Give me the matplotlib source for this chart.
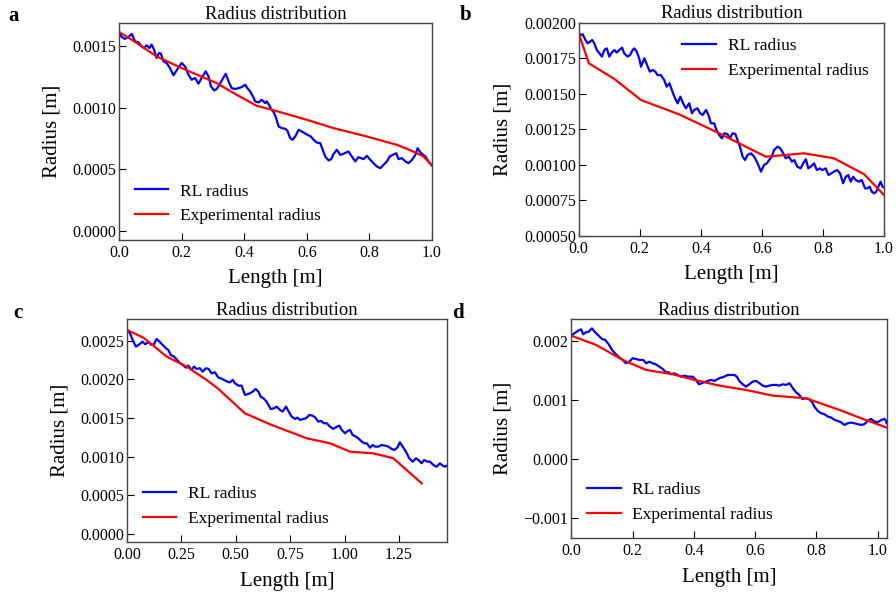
import numpy as np
import matplotlib
matplotlib.use("Agg")
import matplotlib.pyplot as plt
from matplotlib.ticker import MultipleLocator

plt.rcParams["font.family"] = ["Liberation Serif", "DejaVu Serif"]

# ---- panel a (radius stored in mm, converted to m below)
len_a = [0, 0.0085, 0.019, 0.030, 0.041, 0.051, 0.062, 0.072, 0.080, 0.088, 0.097, 0.104, 0.112, 0.120,
         0.128, 0.134, 0.142, 0.152, 0.163, 0.174, 0.184, 0.200, 0.211, 0.222, 0.232, 0.243, 0.254, 0.264,
         0.277, 0.286, 0.294, 0.304, 0.312, 0.321, 0.332, 0.341, 0.350, 0.360, 0.371, 0.382, 0.392, 0.403,
         0.410, 0.419, 0.428, 0.435, 0.446, 0.456, 0.467, 0.472, 0.481, 0.488, 0.496, 0.502, 0.510, 0.520,
         0.531, 0.538, 0.547, 0.554, 0.563, 0.574, 0.584, 0.593, 0.602, 0.613, 0.622, 0.632, 0.643, 0.651,
         0.659, 0.670, 0.678, 0.686, 0.696, 0.707, 0.717, 0.733, 0.744, 0.755, 0.765, 0.781, 0.792, 0.803,
         0.813, 0.824, 0.835, 0.845, 0.856, 0.865, 0.875, 0.886, 0.893, 0.904, 0.915, 0.925, 0.936, 0.947,
         0.954, 0.961, 0.968, 0.979, 0.989, 1.0]
rl_a = [1.617, 1.576, 1.560, 1.576, 1.601, 1.541, 1.533, 1.500, 1.486, 1.508, 1.486, 1.514, 1.473, 1.405,
        1.446, 1.440, 1.378, 1.364, 1.323, 1.264, 1.304, 1.364, 1.337, 1.269, 1.228, 1.242, 1.196, 1.242,
        1.296, 1.255, 1.174, 1.141, 1.152, 1.188, 1.239, 1.277, 1.215, 1.160, 1.152, 1.160, 1.168, 1.188,
        1.160, 1.133, 1.092, 1.052, 1.043, 1.065, 1.038, 1.052, 1.016, 0.984, 0.957, 0.916, 0.848, 0.834,
        0.829, 0.813, 0.753, 0.739, 0.766, 0.821, 0.807, 0.793, 0.780, 0.766, 0.739, 0.717, 0.712, 0.658,
        0.603, 0.571, 0.582, 0.625, 0.658, 0.617, 0.625, 0.644, 0.603, 0.563, 0.598, 0.582, 0.609, 0.576,
        0.549, 0.522, 0.508, 0.535, 0.563, 0.603, 0.617, 0.630, 0.582, 0.590, 0.563, 0.549, 0.576, 0.617,
        0.671, 0.644, 0.625, 0.603, 0.563, 0.530]
exp_len_a = [0, 0.046, 0.120, 0.200, 0.312, 0.366, 0.430, 0.440, 0.488, 0.600, 0.686, 0.792, 0.888, 0.920,
             0.952, 0.973, 1.0]
exp_a = [1.617, 1.545, 1.418, 1.323, 1.201, 1.120, 1.030, 1.016, 0.984, 0.902, 0.834, 0.766, 0.698, 0.666,
         0.630, 0.603, 0.530]

# ---- panel b
len_b = [0, 0.008, 0.013, 0.022, 0.029, 0.037, 0.044, 0.051, 0.059, 0.068, 0.076, 0.084, 0.092, 0.100,
         0.108, 0.117, 0.124, 0.133, 0.142, 0.149, 0.160, 0.168, 0.177, 0.182, 0.190, 0.198, 0.204, 0.215,
         0.226, 0.233, 0.242, 0.251, 0.258, 0.269, 0.280, 0.288, 0.297, 0.305, 0.313, 0.324, 0.333, 0.342,
         0.351, 0.362, 0.371, 0.378, 0.389, 0.398, 0.406, 0.417, 0.425, 0.433, 0.444, 0.451, 0.460, 0.469,
         0.477, 0.487, 0.495, 0.504, 0.513, 0.520, 0.528, 0.537, 0.545, 0.553, 0.564, 0.575, 0.586, 0.597,
         0.607, 0.616, 0.624, 0.632, 0.640, 0.651, 0.660, 0.670, 0.678, 0.689, 0.698, 0.706, 0.716, 0.727,
         0.735, 0.744, 0.752, 0.760, 0.771, 0.780, 0.790, 0.798, 0.809, 0.818, 0.828, 0.836, 0.847, 0.856,
         0.866, 0.875, 0.883, 0.891, 0.899, 0.907, 0.918, 0.927, 0.938, 0.945, 0.953, 0.960, 0.967, 0.975,
         0.984, 0.989, 0.995, 1.0]
rl_b = [1.925, 1.913, 1.918, 1.878, 1.854, 1.866, 1.878, 1.854, 1.808, 1.784, 1.761, 1.808, 1.819, 1.761,
        1.789, 1.808, 1.789, 1.808, 1.824, 1.784, 1.761, 1.772, 1.808, 1.819, 1.796, 1.749, 1.690, 1.749,
        1.690, 1.655, 1.667, 1.655, 1.631, 1.631, 1.596, 1.549, 1.573, 1.526, 1.479, 1.432, 1.479, 1.432,
        1.397, 1.432, 1.362, 1.385, 1.397, 1.362, 1.350, 1.385, 1.350, 1.291, 1.291, 1.244, 1.209, 1.185,
        1.221, 1.216, 1.185, 1.221, 1.216, 1.174, 1.127, 1.056, 1.033, 1.068, 1.080, 1.056, 1.009, 0.951,
        0.998, 1.009, 1.033, 1.056, 1.103, 1.127, 1.115, 1.080, 1.045, 1.056, 1.021, 1.033, 0.986, 0.974,
        1.009, 1.038, 0.974, 0.986, 1.009, 0.962, 0.974, 0.962, 0.974, 0.927, 0.939, 0.951, 0.962, 0.939,
        0.869, 0.915, 0.927, 0.880, 0.915, 0.892, 0.880, 0.892, 0.833, 0.833, 0.845, 0.810, 0.798, 0.810,
        0.857, 0.880, 0.845, 0.840]
exp_len_b = [0, 0.033, 0.117, 0.204, 0.329, 0.460, 0.613, 0.738, 0.836, 0.935, 1.0]
exp_b = [1.925, 1.714, 1.603, 1.455, 1.354, 1.221, 1.056, 1.080, 1.045, 0.932, 0.786]

# ---- panel c
len_c = [0, 0.014, 0.026, 0.041, 0.057, 0.072, 0.083, 0.098, 0.113, 0.124, 0.136, 0.149, 0.164, 0.179,
         0.190, 0.201, 0.216, 0.228, 0.244, 0.256, 0.271, 0.282, 0.297, 0.308, 0.320, 0.335, 0.348, 0.363,
         0.375, 0.389, 0.404, 0.420, 0.430, 0.446, 0.461, 0.473, 0.486, 0.496, 0.512, 0.527, 0.542, 0.553,
         0.565, 0.578, 0.591, 0.604, 0.614, 0.627, 0.639, 0.650, 0.660, 0.676, 0.688, 0.703, 0.715, 0.731,
         0.743, 0.757, 0.772, 0.784, 0.795, 0.810, 0.823, 0.838, 0.853, 0.866, 0.879, 0.892, 0.905, 0.918,
         0.933, 0.948, 0.964, 0.976, 0.987, 1.002, 1.014, 1.025, 1.037, 1.052, 1.063, 1.079, 1.091, 1.102,
         1.117, 1.129, 1.140, 1.155, 1.170, 1.186, 1.201, 1.216, 1.229, 1.242, 1.254, 1.267, 1.282, 1.297,
         1.313, 1.328, 1.339, 1.354, 1.366, 1.380, 1.392, 1.408, 1.423, 1.438, 1.451, 1.461, 1.469]
rl_c = [2.643, 2.599, 2.513, 2.426, 2.457, 2.491, 2.457, 2.483, 2.448, 2.457, 2.526, 2.491, 2.448, 2.405,
        2.383, 2.318, 2.297, 2.262, 2.210, 2.189, 2.154, 2.180, 2.124, 2.167, 2.137, 2.145, 2.102, 2.145,
        2.137, 2.080, 2.093, 2.024, 2.016, 1.994, 1.972, 1.963, 1.994, 1.951, 1.920, 1.920, 1.799, 1.808,
        1.821, 1.843, 1.877, 1.843, 1.778, 1.756, 1.721, 1.670, 1.618, 1.626, 1.648, 1.605, 1.583, 1.648,
        1.583, 1.518, 1.488, 1.505, 1.475, 1.488, 1.497, 1.540, 1.531, 1.505, 1.453, 1.462, 1.432, 1.432,
        1.388, 1.358, 1.388, 1.401, 1.345, 1.302, 1.332, 1.345, 1.280, 1.259, 1.237, 1.194, 1.172, 1.172,
        1.116, 1.150, 1.129, 1.129, 1.150, 1.142, 1.129, 1.099, 1.086, 1.116, 1.185, 1.129, 1.064, 0.978,
        0.934, 0.978, 0.956, 0.913, 0.956, 0.934, 0.934, 0.891, 0.869, 0.913, 0.882, 0.869, 0.882]
exp_len_c = [0, 0.075, 0.182, 0.274, 0.366, 0.420, 0.542, 0.657, 0.826, 0.933, 1.025, 1.132, 1.224, 1.354]
exp_c = [2.643, 2.543, 2.297, 2.167, 1.994, 1.877, 1.561, 1.419, 1.237, 1.172, 1.064, 1.042, 0.978, 0.653]

# ---- panel d
len_d = [0, 0.010, 0.021, 0.032, 0.039, 0.048, 0.057, 0.067, 0.078, 0.089, 0.100, 0.111, 0.122, 0.133,
         0.146, 0.157, 0.168, 0.178, 0.189, 0.200, 0.211, 0.222, 0.235, 0.244, 0.255, 0.265, 0.276, 0.287,
         0.298, 0.309, 0.318, 0.325, 0.336, 0.347, 0.358, 0.369, 0.380, 0.396, 0.407, 0.416, 0.425, 0.434,
         0.445, 0.456, 0.467, 0.478, 0.489, 0.499, 0.510, 0.521, 0.532, 0.540, 0.548, 0.559, 0.570, 0.581,
         0.592, 0.603, 0.614, 0.625, 0.635, 0.646, 0.657, 0.668, 0.679, 0.690, 0.701, 0.712, 0.723, 0.733,
         0.744, 0.753, 0.764, 0.775, 0.786, 0.793, 0.804, 0.815, 0.826, 0.837, 0.848, 0.859, 0.869, 0.880,
         0.891, 0.902, 0.913, 0.924, 0.935, 0.946, 0.956, 0.967, 0.978, 0.986, 0.995, 1.003, 1.012, 1.022,
         1.027, 1.029]
rl_d = [2.084, 2.124, 2.163, 2.192, 2.107, 2.141, 2.152, 2.208, 2.141, 2.084, 2.028, 2.011, 1.938, 1.842,
        1.769, 1.713, 1.674, 1.617, 1.645, 1.702, 1.690, 1.674, 1.674, 1.617, 1.645, 1.617, 1.600, 1.561,
        1.522, 1.465, 1.465, 1.432, 1.448, 1.420, 1.392, 1.409, 1.392, 1.392, 1.336, 1.263, 1.280, 1.297,
        1.319, 1.336, 1.319, 1.353, 1.375, 1.392, 1.420, 1.420, 1.420, 1.392, 1.319, 1.263, 1.223, 1.263,
        1.308, 1.319, 1.280, 1.240, 1.223, 1.240, 1.252, 1.252, 1.240, 1.263, 1.252, 1.280, 1.195, 1.128,
        1.083, 1.015, 1.026, 1.015, 0.959, 0.886, 0.813, 0.773, 0.756, 0.717, 0.700, 0.661, 0.644, 0.621,
        0.576, 0.604, 0.616, 0.604, 0.588, 0.576, 0.588, 0.644, 0.678, 0.644, 0.621, 0.633, 0.661, 0.678,
        0.644, 0.604]
exp_len_d = [0, 0.081, 0.168, 0.244, 0.331, 0.402, 0.483, 0.570, 0.657, 0.766, 0.875, 0.951, 1.029]
exp_d = [2.084, 1.927, 1.674, 1.505, 1.432, 1.336, 1.240, 1.167, 1.071, 1.026, 0.829, 0.678, 0.531]

panels = [
    ("a", len_a, rl_a, exp_len_a, exp_a, [0.1328, 0.5987, 0.3493, 0.3629], (0, 1.0), (-0.000076, 0.00169), 0.0005, 0.2, "lower left"),
    ("b", len_b, rl_b, exp_len_b, exp_b, [0.6459, 0.6059, 0.3407, 0.3562], (0, 1.0), (0.0005, 0.002), 0.00025, 0.2, "upper right"),
    ("c", len_c, rl_c, exp_len_c, exp_c, [0.1417, 0.0931, 0.3568, 0.3729], (0, 1.469), (-0.000112, 0.00278), 0.0005, 0.25, "lower left"),
    ("d", len_d, rl_d, exp_len_d, exp_d, [0.6376, 0.0998, 0.3520, 0.3662], (0, 1.029), (-0.00134, 0.00236), 0.001, 0.2, "lower left"),
]
letter_pos = {"a": (0.009, 0.990), "b": (0.513, 0.992), "c": (0.015, 0.494), "d": (0.505, 0.494)}

fig = plt.figure(figsize=(8.96, 5.98), dpi=100)
for name, x, r, xe, re, rect, xl, yl, ystep, xstep, loc in panels:
    ax = fig.add_axes(rect)
    ax.plot(x, np.array(r) * 1e-3, color="blue", lw=1.6, label="RL radius")
    ax.plot(xe, np.array(re) * 1e-3, color="red", lw=1.6, label="Experimental radius")
    ax.set_xlim(xl)
    ax.set_ylim(yl)
    ax.yaxis.set_major_locator(MultipleLocator(ystep))
    ax.xaxis.set_major_locator(MultipleLocator(xstep))
    ax.ticklabel_format(axis="y", style="plain", useOffset=False)
    ax.tick_params(direction="in", length=5, labelsize=11.5, top=False, right=False)
    ax.tick_params(axis="y", pad=2)
    for s in ax.spines.values():
        s.set_color("#444444")
        s.set_linewidth(1.0)
    ax.set_title("Radius distribution", fontsize=13.3, pad=3)
    ax.set_xlabel("Length [m]", fontsize=15, labelpad=6)
    ax.set_ylabel("Radius [m]", fontsize=15, labelpad=8)
    ax.legend(loc=loc, frameon=False, fontsize=12.5, handlelength=1.95, handletextpad=0.65)
    fig.text(*letter_pos[name], name, fontsize=15, fontweight="bold", ha="left", va="top")

fig.savefig("out.png", dpi=100)
